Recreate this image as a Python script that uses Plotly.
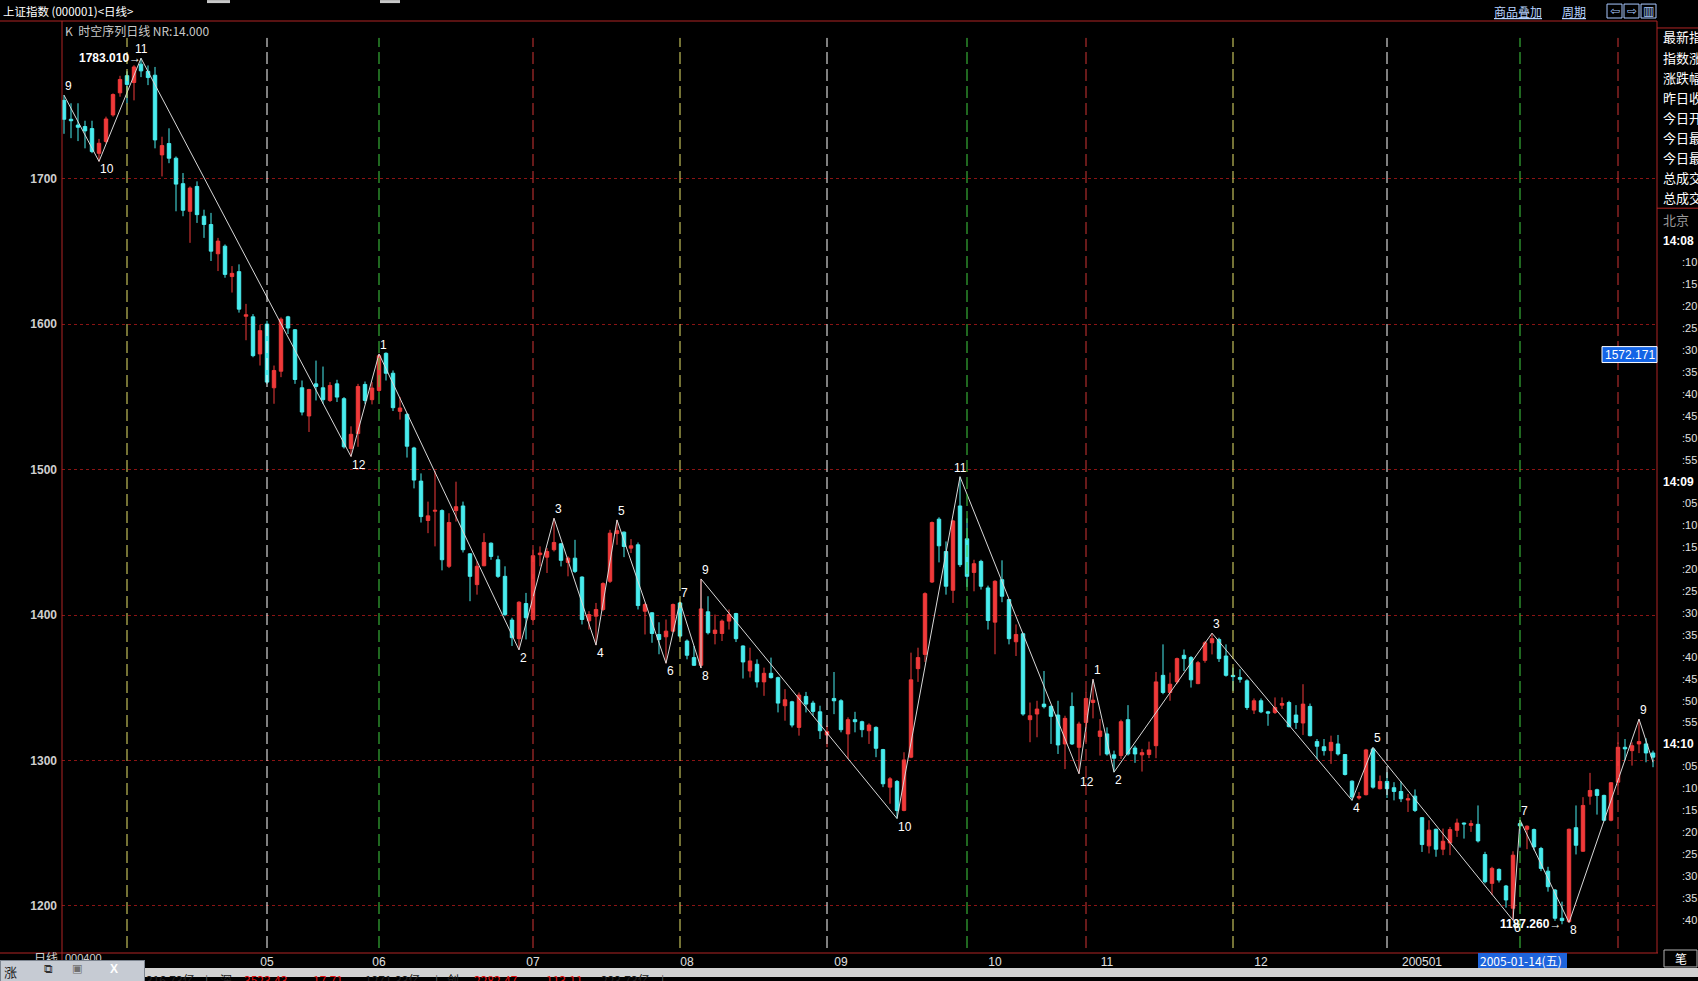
import plotly.graph_objects as go

# ---------------- data ----------------
opens = [1754,1741,1737,1736,1734.6,1717.6,1725.7,1744,1759.2,1771,1766.3,1778.9,1774,1771.3,1716.5,1724.3,1714.2,1696.7,1677.7,1694.8,
         1674.3,1668.6,1648.5,1653.7,1632.8,1636.2,1605.5,1605.1,1579.6,1600.1,1556.3,1567.7,1605.1,1596.2,1556.3,1536.9,1559,1556.3,1547.6,1559,
         1548.8,1514.5,1524.8,1558.6,1548.1,1554.5,1580,1566.3,1540.1,1538,1514.9,1492.1,1465,1471.4,1471.8,1433.5,1471.8,1475,1442.1,1420.9,
         1433.9,1449.4,1438,1426.6,1396.5,1383.7,1407.9,1396.9,1441.5,1439.8,1444.9,1449,1436.2,1439.1,1426.1,1396,1399.2,1403.8,1423.2,1456,
         1457,1446,1448.3,1402.6,1401.5,1386.6,1385,1388.9,1408.3,1382.1,1370.7,1365.4,1402.2,1387.3,1387.3,1395.8,1401,1378.7,1361.5,1366.1,
         1354,1359.9,1356.9,1337.6,1340.3,1322.7,1344,1339.4,1333.4,1317.5,1342.6,1341,1318.2,1328,1326.6,1320.4,1322.7,1307.4,1281.6,1285.5,
         1265.6,1302.2,1363.1,1372.9,1422.7,1465.9,1443.7,1417,1475,1452.4,1429.3,1436.9,1418.6,1395.1,1424.3,1410.6,1381.6,1387.1,1328,1331.9,
         1338.7,1337.1,1331.2,1311.3,1337.1,1309,1326.1,1339.8,1316.5,1318.2,1303.8,1303.3,1328,1308.5,1303.8,1304,1310.1,1358.5,1346.7,1354,
         1372.3,1370.7,1352.8,1368.8,1380.9,1383.2,1371.8,1358.5,1357,1354.7,1334.6,1341,1333.4,1333,1338,1339.8,1331.2,1325.7,1337.1,1312.9,
         1309.4,1306.7,1311.3,1304,1285.7,1274.1,1276.4,1307.9,1280.5,1285.5,1281.2,1278.6,1272.7,1275.4,1260.6,1241.2,1252.6,1238.9,1243.2,1251.9,
         1256.9,1255.3,1256,1235.2,1215.4,1225,1213.6,1198.3,1256.5,1252.6,1252.4,1239.4,1223.8,1210.8,1191.4,1189.1,1253.7,1237.5,1275.4,1279.8,
         1275.9,1258.8,1285,1309,1306.7,1311.3,1311.3,1305.1]
highs = [1757.6,1752,1752,1740,1740,1727.5,1742.8,1758.8,1770.9,1774,1778.2,1783.01,1778,1777,1729,1734.8,1715.4,1704,1694.8,1698.3,
         1678.8,1676.6,1659.4,1654.9,1640,1641.2,1614,1607,1599.7,1602.4,1571.6,1604.7,1605.8,1596.7,1561.3,1555.6,1575,1570.9,1560.2,1561.8,
         1549.9,1529.8,1559,1560.6,1560.2,1579.6,1580.7,1568.2,1549.9,1538.9,1515.7,1497.4,1478,1499.2,1472.7,1470,1491.7,1478,1442.6,1436.9,
         1456.3,1449.9,1440.8,1433.5,1398.1,1409.5,1415.2,1444.9,1447.2,1446,1466.6,1449.4,1440.3,1451.7,1426.6,1402.6,1408.3,1422.5,1458.6,1465.4,
         1457.4,1452.2,1449.9,1408.3,1401.9,1395,1396.9,1407.9,1409,1383.2,1378.7,1424.8,1412.9,1400.3,1396.9,1403.8,1401.5,1379.1,1377.5,1369.5,
         1363.8,1370.7,1357.6,1349,1341,1346.7,1347.1,1341,1337.6,1323.8,1360.8,1342.1,1329.6,1333.4,1327.3,1325.5,1323.4,1307.9,1288.5,1286.5,
         1305.6,1374.1,1377.5,1415.6,1464.3,1467.2,1450.6,1465.4,1495.1,1466.5,1438,1438,1420.2,1423.9,1437.6,1411,1393.5,1387.8,1339.8,1341,
         1361.5,1338,1341,1330.7,1346.7,1326.6,1346.7,1355.8,1328.4,1322.7,1306.7,1328,1338,1310.1,1307.9,1312.9,1360.8,1379.8,1360.4,1370.7,
         1376.3,1371.8,1368.4,1382.1,1387.5,1384.4,1379.8,1363.8,1362.7,1355.8,1342.6,1342.6,1334.1,1343.3,1343.3,1341,1338,1352.4,1339.1,1314.7,
         1314.7,1317,1317.5,1304.4,1286.2,1278.2,1307.9,1308.9,1289.6,1291.9,1285,1285.5,1277,1280,1261,1258.8,1253.1,1253.1,1254.2,1259.9,
         1257.2,1258.8,1269,1237.1,1226.8,1225.7,1214.3,1237.5,1259,1255.3,1253.1,1240.5,1226.8,1211.5,1202.8,1253.1,1269,1274.7,1291.4,1280.5,
         1276.4,1285,1312.4,1314.7,1312.4,1328.4,1315.2,1306.7]
lows = [1731,1728,1726,1721,1717.7,1712,1724.5,1742.8,1756.5,1752,1754,1770,1764.5,1721,1701.7,1710.8,1677.7,1674.3,1656,1669.7,
        1659.4,1643.5,1636.6,1632,1621.8,1608,1589,1577.3,1571.6,1559,1545.3,1563.6,1593.3,1559,1537.3,1525.9,1547.6,1545.3,1546.5,1546.5,
        1514.5,1509,1515.7,1545.3,1544.9,1553.3,1561.3,1540.3,1534.4,1508.3,1487.1,1463.6,1456.3,1447.2,1430.7,1432.3,1464.3,1443,1409.5,1414,
        1433.5,1438,1425.5,1399.2,1378.7,1376,1383.2,1395.8,1433.5,1428.9,1443.7,1433.4,1426.6,1428.9,1393.5,1390,1379.3,1402.6,1422,1448.3,
        1439.8,1442.6,1403.8,1386.6,1380.9,1373,1366.8,1388.2,1384,1369.5,1365,1363.5,1386.6,1379.8,1382.1,1390,1381.4,1356.3,1357,1350.1,
        1344.4,1356.3,1333,1327.3,1322.7,1317,1333,1330.7,1314.7,1309,1331.8,1319.3,1301,1319.3,1315.9,1311.3,1302.2,1281.6,1270.2,1260,
        1265,1301.5,1354,1367.7,1422,1436.2,1414,1408.3,1433,1419.3,1416.3,1417.5,1390,1373,1408.8,1379.8,1371.8,1330.7,1312.5,1315.9,
        1335.7,1311.3,1304.4,1294,1310.6,1290.8,1312.5,1328.9,1303.3,1303.3,1291.9,1301,1303.3,1298.3,1292.3,1301.5,1301.5,1345.5,1341,1352.4,
        1361.5,1350.1,1352.4,1367.2,1372.9,1367.7,1357.6,1347.8,1353.5,1334.8,1331.9,1332.5,1323.8,1331.9,1335.3,1322.7,1321.6,1317.5,1316.5,1301,
        1303.3,1297.6,1303.3,1289.6,1272.5,1273,1275.9,1280.5,1280,1274.1,1272.5,1271.3,1264.5,1264.5,1237,1236,1233.7,1234.8,1234.8,1247.4,
        1246.2,1250.8,1243.5,1215.4,1207.4,1216,1198.7,1190,1240,1238.9,1238.2,1223.8,1209.7,1189.6,1187.26,1188.5,1235.3,1237.1,1269.5,1262.7,
        1258.1,1258.1,1282.7,1299.9,1296.4,1305,1298.7,1295.3]
closes = [1741,1740,1735.5,1733,1718.8,1724.5,1741.2,1758,1768.4,1765,1777,1774.3,1769.7,1726.8,1722.9,1714.2,1696.4,1678.4,1693.7,1675.4,
          1668.6,1650.3,1657.2,1634.3,1635,1610.4,1606.5,1578.4,1595.6,1560.2,1568.2,1603.5,1597.4,1562,1539.6,1555.1,1557.2,1548.1,1557.9,1549.9,
          1515.7,1524.3,1557.2,1547.6,1556.1,1578.4,1566.3,1542.6,1542.4,1516.1,1492.8,1467.7,1468.2,1472,1438,1463.6,1474.5,1444.9,1426.6,1433.5,
          1449.9,1440.3,1426.6,1400.4,1384.4,1408.8,1398.1,1440.8,1442.6,1443.7,1449.9,1437.6,1439.1,1430,1396.9,1400.3,1403.8,1421.6,1456.3,1458,
          1447.1,1447.6,1406.5,1407.2,1387.3,1383.2,1388.9,1407.2,1385.5,1372.3,1365.4,1404.2,1387.8,1389.6,1395.8,1400.3,1383.7,1367.7,1368.4,1354,
          1359.9,1356.9,1339.4,1341.7,1324.3,1344.9,1338.7,1333.7,1320.4,1319.8,1341,1321.1,1328,1326.6,1321.1,1324.3,1308.3,1283.9,1287.3,1265.5,
          1300.3,1355.4,1370.7,1414.7,1463.6,1447.6,1419.8,1464.7,1434.6,1426.6,1435.3,1419.8,1396.2,1423.2,1412.9,1383.7,1386.6,1331.9,1330.7,1335.3,
          1336.9,1330.3,1310.6,1328.9,1311.3,1325,1342.6,1341.4,1320.2,1304.4,1301.5,1326.6,1304.4,1304.4,1305.3,1307.2,1354,1346.7,1352.4,1370,
          1370,1355.4,1367.2,1380.9,1383.7,1370,1358.5,1357.6,1355.8,1336.4,1341,1333.4,1332.5,1336.4,1339.1,1323.2,1326.1,1338.7,1317,1309.7,
          1306.7,1312.4,1304.4,1290.3,1274.8,1275.2,1307.2,1281.6,1285.5,1280.5,1278.6,1273.6,1273.6,1265.6,1242.1,1252,1238.9,1244.4,1252.4,1256.9,
          1256.3,1256.5,1244.6,1216.5,1225.7,1217.7,1204,1234.8,1255,1254.7,1240.5,1225.7,1213.1,1191.4,1189.8,1252.6,1241.6,1269,1279.3,1275.9,
          1258.8,1284.6,1309,1307.9,1310.1,1312.9,1305.1,1302.2]
day_idx = list(range(len(opens)))

month_idx = [29, 45, 67, 89, 111, 133, 149, 171, 194]
month_lab = ["05", "06", "07", "08", "09", "10", "11", "12", "200501"]

cycle_idx = [9, 29, 45, 67, 88, 109, 129, 146, 167, 189, 208, 222]

pivot_idx = [0, 5, 11, 41, 45, 65, 70, 76, 79, 86, 88, 91, 91, 119, 128, 145, 147, 150, 164, 184, 187, 207, 208, 215, 225, 227]
pivot_val = [1757.6, 1712, 1783.01, 1509, 1579.6, 1376, 1466.6, 1379.3, 1465.4, 1366.8, 1409, 1363.5, 1424.8, 1260, 1495.1,
             1290.8, 1355.8, 1291.9, 1387.5, 1272.5, 1308.9, 1190, 1259, 1188.5, 1328.4, 1298.7]
pivot_lab = ["9", "10", "11", "12", "1", "2", "3", "4", "5", "6", "7", "8", "9", "10", "11", "12", "1", "2", "3", "4", "5", "6", "7", "8", "9", ""]
pivot_up = [1, 0, 1, 0, 1, 0, 1, 0, 1, 0, 1, 0, 1, 0, 1, 0, 1, 0, 1, 0, 1, 0, 1, 0, 1, 0]

y_ticks = [1200, 1300, 1400, 1500, 1600, 1700]

hi_idx, hi_val, hi_txt = 11, 1783.01, "1783.010"
lo_idx, lo_val, lo_txt = 214, 1187.26, "1187.260"

info_labels = ["最新指", "指数涨", "涨跌幅", "昨日收", "今日开", "今日最", "今日最", "总成交", "总成交"]
time_labels = ["14:08", ":10", ":15", ":20", ":25", ":30", ":35", ":40", ":45", ":50", ":55",
               "14:09", ":05", ":10", ":15", ":20", ":25", ":30", ":35", ":40", ":45", ":50", ":55",
               "14:10", ":05", ":10", ":15", ":20", ":25", ":30", ":35", ":40"]

# partially hidden status-bar texts (x position in px, text, colour)
status_items = [(145, "316.73亿", "#202020"), (204, "|", "#606060"), (219, "深", "#202020"),
                (243, "3523.43", "#e01010"), (312, "17.71", "#e01010"), (364, "1271.33亿", "#202020"),
                (434, "|", "#606060"), (446, "创", "#202020"), (473, "2282.47", "#e01010"),
                (545, "113.11", "#e01010"), (600, "223.73亿", "#202020"), (660, "|", "#606060")]

# ---------------- styling ----------------
W, H = 1698, 981
L, R, T, B = 62, 1657, 21, 957
RED = "#f03a3a"
CYAN = "#48ecee"
BORDER = "#b02424"
GRID = "#8a1414"
CYCLE_COLORS = ["#e8e46a", "#ffffff", "#40d040", "#d03434"]
NUMF = "Liberation Sans, Arial, sans-serif"
CJKF = "Noto Sans CJK SC, sans-serif"
Y_RANGE = [1167.5, 1808.6]


def X(px):
    return (px - L) / (R - L)


def Y(py):
    return (B - py) / (B - T)


fig = go.Figure()

fig.add_trace(go.Candlestick(
    x=day_idx, open=opens, high=highs, low=lows, close=closes,
    increasing=dict(line=dict(color=RED, width=1), fillcolor=RED),
    decreasing=dict(line=dict(color=CYAN, width=1), fillcolor=CYAN),
    whiskerwidth=0, hoverinfo="skip", showlegend=False))

fig.add_trace(go.Scatter(x=pivot_idx, y=pivot_val, mode="lines",
                         line=dict(color="#d8d8d8", width=1), hoverinfo="skip", showlegend=False))

shapes = []
# cycle (time-series) dashed lines
for k, ci in enumerate(cycle_idx):
    shapes.append(dict(type="line", xref="x", yref="paper", x0=ci, x1=ci, y0=Y(952), y1=Y(38),
                       line=dict(color=CYCLE_COLORS[k % 4], width=1, dash="12px,5px"), layer="above"))
# frame lines
shapes += [
    dict(type="line", xref="paper", yref="paper", x0=X(0), x1=X(R), y0=Y(T), y1=Y(T), line=dict(color=BORDER, width=1)),
    dict(type="line", xref="paper", yref="paper", x0=X(0), x1=X(R + 1), y0=Y(B), y1=Y(B), line=dict(color=BORDER, width=1)),
    dict(type="line", xref="paper", yref="paper", x0=X(L), x1=X(L), y0=Y(T), y1=Y(966), line=dict(color=BORDER, width=1)),
    dict(type="line", xref="paper", yref="paper", x0=X(R), x1=X(R), y0=Y(T), y1=Y(B), line=dict(color=BORDER, width=1)),
    dict(type="line", xref="paper", yref="paper", x0=X(R), x1=X(W), y0=Y(28), y1=Y(28), line=dict(color=BORDER, width=1)),
    dict(type="line", xref="paper", yref="paper", x0=X(R), x1=X(W), y0=Y(209), y1=Y(209), line=dict(color=BORDER, width=1)),
    # small grey blocks of the window above
    dict(type="rect", xref="paper", yref="paper", x0=X(207), x1=X(230), y0=Y(3), y1=Y(0),
         fillcolor="#c8c8c8", line=dict(width=0)),
    dict(type="rect", xref="paper", yref="paper", x0=X(380), x1=X(400), y0=Y(3), y1=Y(0),
         fillcolor="#c8c8c8", line=dict(width=0)),
    # price cursor box
    dict(type="rect", xref="paper", yref="paper", x0=X(1602), x1=X(1657), y0=Y(364), y1=Y(348),
         fillcolor="#1464e6", line=dict(color="#ffffff", width=1), layer="above"),
    # date cursor box
    dict(type="rect", xref="paper", yref="paper", x0=X(1478), x1=X(1567), y0=Y(972), y1=Y(957),
         fillcolor="#1e64dc", line=dict(width=0)),
    # bottom grey status bar
    dict(type="rect", xref="paper", yref="paper", x0=X(0), x1=X(W), y0=Y(H), y1=Y(972),
         fillcolor="#d2d2d2", line=dict(width=0)),
    # 笔 tab
    dict(type="rect", xref="paper", yref="paper", x0=X(1664), x1=X(1697), y0=Y(971), y1=Y(954),
         fillcolor="#000000", line=dict(color="#b0b0b0", width=1)),
]
# top-right icon boxes
for bx in [1607, 1624, 1641]:
    shapes.append(dict(type="rect", xref="paper", yref="paper", x0=X(bx), x1=X(bx + 15), y0=Y(18), y1=Y(4),
                       fillcolor="#000000", line=dict(color="#a8c8ff", width=1)))

anns = []


def txt(x, y, text, size=12, color="#ffffff", family=NUMF, xanchor="left", yanchor="middle", weight="normal", **kw):
    anns.append(dict(xref="paper", yref="paper", x=X(x), y=Y(y), text=text, showarrow=False,
                     xanchor=xanchor, yanchor=yanchor, borderpad=0,
                     font=dict(size=size, color=color, family=family, weight=weight), **kw))


# pivot labels on the zigzag (left edge at the pivot, above highs / below lows)
for pi, pv, pl, up in zip(pivot_idx, pivot_val, pivot_lab, pivot_up):
    if not pl:
        continue
    anns.append(dict(xref="x", yref="y", x=pi, y=pv, text=pl, showarrow=False,
                     xanchor=("center" if (up and len(pl) == 2) else "left"), yanchor="middle",
                     xshift=(0 if (up and len(pl) == 2) else -1), yshift=(9 if up else -8),
                     font=dict(size=12, color="#ffffff", family=NUMF)))

# extreme labels
anns.append(dict(xref="x", yref="y", x=hi_idx, y=hi_val, text=hi_txt + "→", showarrow=False,
                 xanchor="right", yanchor="middle", xshift=2,
                 font=dict(size=12, color="#ffffff", family=NUMF, weight="bold")))
anns.append(dict(xref="x", yref="y", x=lo_idx, y=lo_val, text=lo_txt + "→", showarrow=False,
                 xanchor="right", yanchor="middle", xshift=1,
                 font=dict(size=12, color="#ffffff", family=NUMF, weight="bold")))

# header texts
txt(2, 11, "上证指数 (000001)<日线>", size=11.5, family=CJKF)
txt(64, 31, "K  时空序列日线 NR:14.000", size=12, color="#c8c8c8", family=CJKF)
txt(1493, 11, "<u>商品叠加</u>", size=12, color="#b8d4ff", family=CJKF)
txt(1561, 11, "<u>周期</u>", size=12, color="#b8d4ff", family=CJKF)
for bx, ch in zip([1607, 1624, 1641], ["⇦", "⇨", "▥"]):
    txt(bx + 7.5, 11, ch, size=12, color="#a8c8ff", family="DejaVu Sans", xanchor="center")

# right info panel
for k, lab in enumerate(info_labels):
    txt(1662, 37 + k * 20.2, lab, size=13, family=CJKF)
txt(1662, 220, "北京", size=13, color="#9a9a9a", family=CJKF)
for k, tl in enumerate(time_labels):
    yy = 241.5 + k * 22.0
    if tl.startswith("14"):
        txt(1662, yy, tl, size=12, weight="bold")
    else:
        txt(1681, yy, tl, size=11, color="#e0e0e0")

# cursor labels
txt(1629.5, 356, "1572.171", size=12, xanchor="center")
txt(1479, 964.5, "2005-01-14(五)", size=12, family="Liberation Sans Narrow, " + CJKF)
txt(1681, 963, "笔", size=12, family=CJKF, xanchor="center")

# bottom status bar texts (mostly cut by the window edge)
for sx, st, sc in status_items:
    txt(sx, 984, st, size=12, color=sc, family=CJKF)

# bottom-left partially hidden text and floating window
txt(33, 962, "日线", size=12, family=CJKF, color="#d0d0d0")
txt(64, 962, "000400", size=11, color="#d0d0d0")
anns.append(dict(xref="paper", yref="paper", x=X(0), y=Y(964), xanchor="left", yanchor="top", text=" ",
                 showarrow=False, width=141, height=19, bgcolor="#c6cbd3", bordercolor="#7d8590", borderwidth=1))
txt(3, 976, "涨", size=13, color="#202020", family=CJKF)
txt(48, 973, "⧉", size=12, color="#303030", family="DejaVu Sans", xanchor="center")
txt(77, 973, "▣", size=11, color="#707070", family="DejaVu Sans", xanchor="center")
txt(114, 973, "X", size=12, color="#ffffff", family=NUMF, xanchor="center", weight="bold")

fig.update_layout(
    width=W, height=H,
    margin=dict(l=L, r=W - R, t=T, b=H - B, pad=0),
    paper_bgcolor="#000000", plot_bgcolor="#000000",
    showlegend=False, hovermode=False,
    shapes=shapes, annotations=anns,
    xaxis=dict(range=[-0.286, 227.57], rangeslider=dict(visible=False), showgrid=False, zeroline=False,
               showline=False, tickmode="array", tickvals=month_idx, ticktext=month_lab, ticks="",
               tickfont=dict(size=12, color="#e0e0e0", family="Liberation Sans Narrow, Liberation Sans"),
               ticklabelstandoff=0, fixedrange=True),
    yaxis=dict(range=Y_RANGE, showgrid=True, gridcolor=GRID, griddash="dot", gridwidth=1,
               zeroline=False, showline=False, tickmode="array", tickvals=y_ticks, ticks="",
               tickfont=dict(size=12, color="#cfcfcf", family=NUMF, weight="bold"),
               ticklabelstandoff=4, fixedrange=True),
)

fig.write_html("out.html", config={"displayModeBar": False},
               post_script="document.body.style.margin='0';document.body.style.overflow='hidden';document.body.style.background='#000';")
